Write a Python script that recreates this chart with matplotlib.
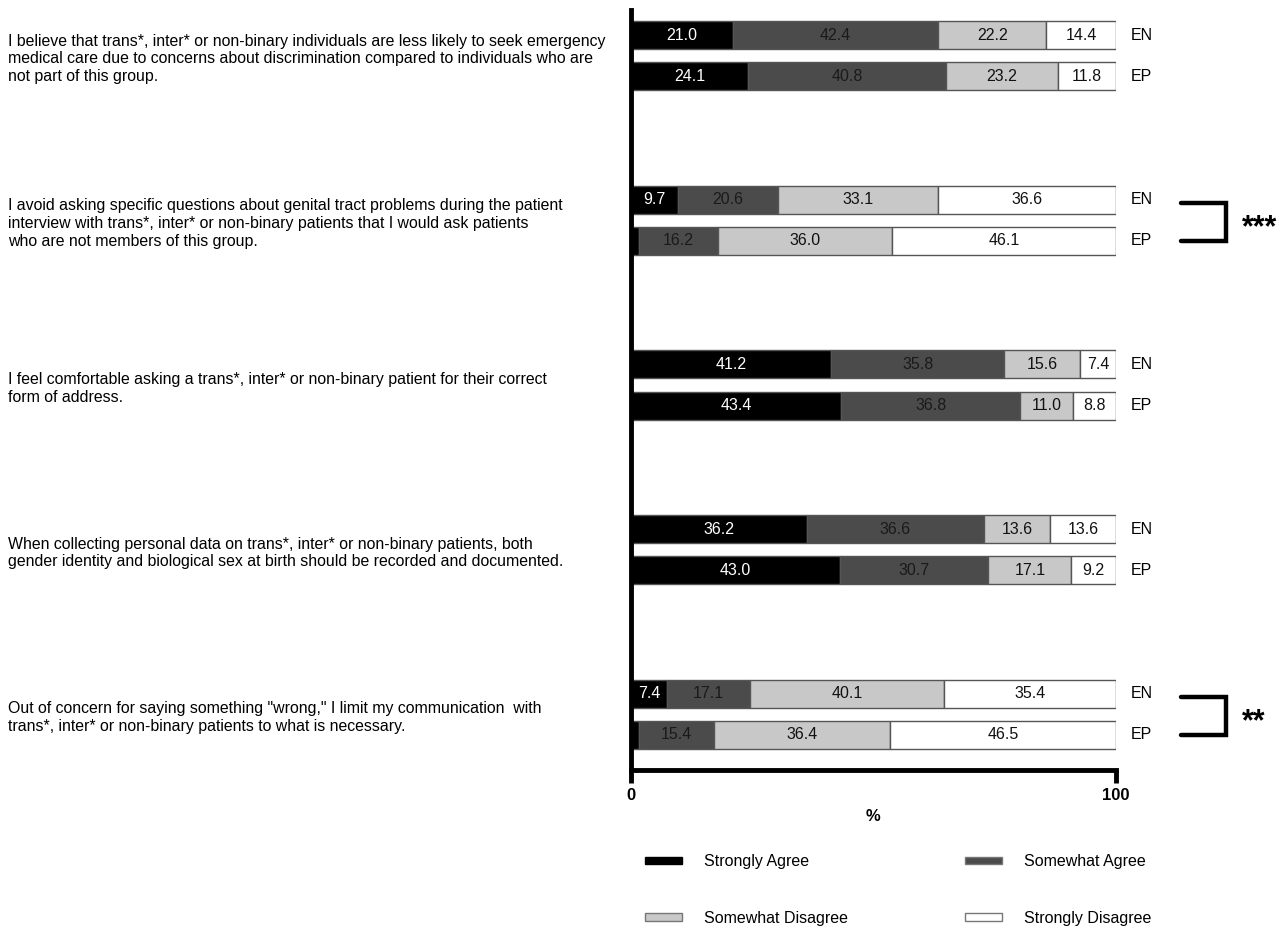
import matplotlib
matplotlib.use('Agg')
import matplotlib.pyplot as plt
import matplotlib.transforms as mtransforms
from matplotlib.patches import Patch
import numpy as np

plt.rcParams['font.family'] = ['Liberation Sans', 'DejaVu Sans']

# survey statements (top to bottom)
questions = [
    "I believe that trans*, inter* or non-binary individuals are less likely to seek emergency\n"
    "medical care due to concerns about discrimination compared to individuals who are\n"
    "not part of this group.",
    "I avoid asking specific questions about genital tract problems during the patient\n"
    "interview with trans*, inter* or non-binary patients that I would ask patients\n"
    "who are not members of this group.",
    "I feel comfortable asking a trans*, inter* or non-binary patient for their correct\n"
    "form of address.",
    "When collecting personal data on trans*, inter* or non-binary patients, both\n"
    "gender identity and biological sex at birth should be recorded and documented.",
    "Out of concern for saying something \"wrong,\" I limit my communication  with\n"
    "trans*, inter* or non-binary patients to what is necessary.",
]
groups = ['EN', 'EP']
categories = ['Strongly Agree', 'Somewhat Agree', 'Somewhat Disagree', 'Strongly Disagree']

# percentages per statement, per category
en_strongly_agree = [21.0, 9.7, 41.2, 36.2, 7.4]
en_somewhat_agree = [42.4, 20.6, 35.8, 36.6, 17.1]
en_somewhat_disagree = [22.2, 33.1, 15.6, 13.6, 40.1]
en_strongly_disagree = [14.4, 36.6, 7.4, 13.6, 35.4]

ep_strongly_agree = [24.1, 1.7, 43.4, 43.0, 1.7]
ep_somewhat_agree = [40.8, 16.2, 36.8, 30.7, 15.4]
ep_somewhat_disagree = [23.2, 36.0, 11.0, 17.1, 36.4]
ep_strongly_disagree = [11.8, 46.1, 8.8, 9.2, 46.5]

# significance between EN and EP (statement index -> stars)
significance = {1: '***', 4: '**'}

colors = ['#000000', '#4b4b4b', '#c8c8c8', '#ffffff']
text_colors = ['white', '#1a1a1a', '#111111', '#111111']

en = np.array([en_strongly_agree, en_somewhat_agree, en_somewhat_disagree, en_strongly_disagree])
ep = np.array([ep_strongly_agree, ep_somewhat_agree, ep_somewhat_disagree, ep_strongly_disagree])

fig = plt.figure(figsize=(12.83, 9.26), dpi=100)
ax = fig.add_axes([631/1283, 1-770/926, 485/1283, 760/926])

pair_off = 0.25
bar_h = 0.17
n = len(questions)

for gi, data in enumerate([en, ep]):
    ys = np.arange(n) + gi * pair_off
    left = np.zeros(n)
    for ci in range(4):
        vals = data[ci]
        ax.barh(ys, vals, left=left, height=bar_h, color=colors[ci],
                edgecolor='#555555', linewidth=1.0, zorder=2)
        for y, l, v in zip(ys, left, vals):
            if v >= 5:
                ax.text(l + v / 2, y, '%.1f' % v, ha='center', va='center',
                        fontsize=11.5, color=text_colors[ci], zorder=3)
        left = left + vals
    for y in ys:
        ax.text(103, y, groups[gi], ha='left', va='center', fontsize=11.5, clip_on=False)

trans = mtransforms.blended_transform_factory(fig.transFigure, ax.transData)
for i, q in enumerate(questions):
    ax.text(0.006, i + pair_off / 2 + 0.02, q, transform=trans, ha='left', va='center',
            fontsize=11.4, linespacing=1.22)

for i, stars in significance.items():
    y0, y1 = i + 0.02, i + pair_off
    ax.plot([113.5, 122.6, 122.6, 113.5], [y0, y0, y1, y1], color='black',
            lw=3.2, clip_on=False, solid_capstyle='round', solid_joinstyle='miter')
    ax.text(126, (y0 + y1) / 2 + 0.04, stars, ha='left', va='center', fontsize=22,
            fontweight='bold', clip_on=False)

ax.set_xlim(0, 100)
ax.set_ylim(n - 1 + pair_off + 0.213, -0.152)
ax.set_xticks([0, 100])
ax.set_xticklabels(['0', '100'], fontweight='bold', fontsize=12)
ax.set_yticks([])
ax.tick_params(axis='x', length=9, width=3.5, pad=4)
ax.set_xlabel('%', fontweight='bold', fontsize=12, labelpad=4)
for s in ['top', 'right']:
    ax.spines[s].set_visible(False)
ax.spines['left'].set_linewidth(3.5)
ax.spines['bottom'].set_linewidth(3.5)

handles = [Patch(facecolor=c, edgecolor='#777777' if c != '#000000' else c, linewidth=1.0)
           for c in colors]
# legend fills column-wise, so reorder to read row-wise
order = [0, 2, 1, 3]
fig.legend([handles[k] for k in order], [categories[k] for k in order],
           loc='upper left', bbox_to_anchor=(631/1283, 1-840/926),
           ncol=2, frameon=False, fontsize=11.5, handlelength=2.3, handleheight=0.35,
           handletextpad=1.4, columnspacing=7.3, labelspacing=2.6)

fig.savefig('out.png', dpi=100)
